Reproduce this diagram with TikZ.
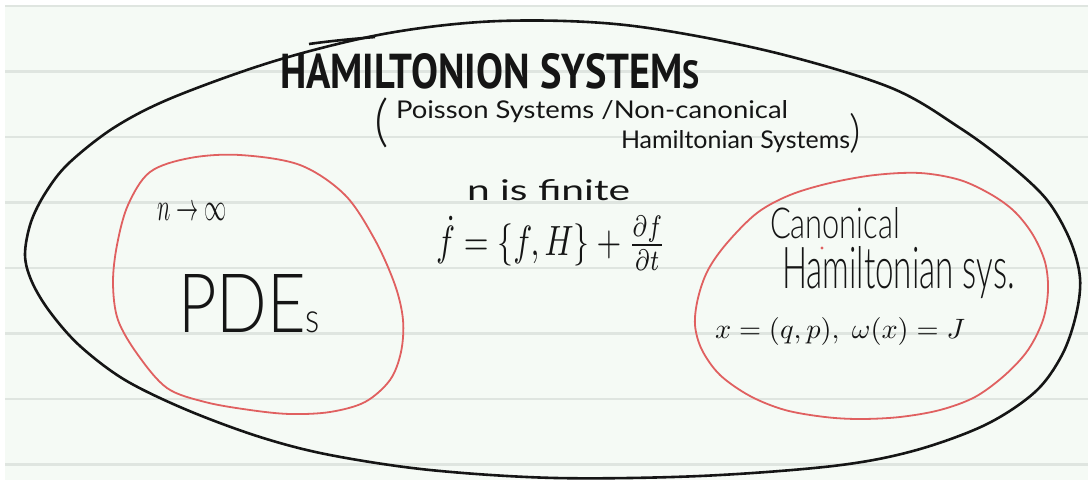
\documentclass[tikz,border=0pt]{standalone}
\usepackage{fontspec}
\setmainfont{PT Sans}
\IfFontExistsTF{Lato Light}{\newfontfamily\thinfont{Lato Light}}{\newfontfamily\thinfont{Lato}}
\newfontfamily\handfont{Lato}
\newlength{\upx}\setlength{\upx}{0.02cm}
\definecolor{paper}{HTML}{F5FAF5}
\definecolor{rulecol}{HTML}{DFE5E0}
\definecolor{pen}{HTML}{E06060}
\definecolor{ink}{HTML}{151515}
\begin{document}
\begin{tikzpicture}[x=0.02cm,y=-0.02cm,
  txt/.style={inner sep=0pt,outer sep=0pt,text=ink},
  outerline/.style={draw=ink,line width=2.6\upx,line join=round},
  redline/.style={draw=pen,line width=1.8\upx,line join=round},
  ruled/.style={draw=rulecol,line width=2.2\upx}]
\useasboundingbox (0,0) rectangle (1088,480);
\fill[white] (0,0) rectangle (1088,480);
\fill[paper] (5,6) rectangle (1088,480);
\foreach \yy in {6,71.5,137,202.5,268,333.5,399,464.5}
  \draw[ruled] (5,\yy) -- (1088,\yy);

% outer black loop
\draw[outerline] plot[smooth cycle, tension=0.55] coordinates {
 (500,21) (625,25) (764,50) (889,87) (960,128) (1010,165) (1047,200)
 (1070,240) (1080,278) (1076,315) (1062,355) (1035,392) (985,425) (913,451)
 (833,466) (700,476) (556,478) (430,470) (330,455) (260,437) (187,410)
 (125,380) (80,346) (50,312) (32,282) (25,255) (31,222) (46,192) (69,163)
 (115,127) (174,97) (278,60) (389,33)};
\draw[outerline] (309,44) .. controls (330,41) and (352,39) .. (375,37);

% red loops
\draw[redline] plot[smooth cycle, tension=0.55] coordinates {
 (240,155) (300,165) (345,195) (375,240) (395,285) (403,320) (401,352)
 (390,380) (365,402) (330,412) (290,414) (250,410) (205,402) (167,388)
 (138,355) (118,320) (113,283) (117,245) (128,205) (150,172) (190,158)};
\draw[redline] plot[smooth cycle, tension=0.55] coordinates {
 (920,173) (960,180) (992,195) (1015,212) (1033,235) (1045,262) (1048,290)
 (1043,320) (1028,350) (1005,375) (975,397) (940,410) (900,417) (860,419)
 (825,417) (785,410) (750,396) (720,375) (702,350) (695,325) (698,298)
 (708,270) (727,243) (757,213) (790,195) (830,183) (875,175)};
\fill[pen] (822,248) circle (1.6);

% texts
\node[txt] (title) at (490,71)
  {\resizebox{420\upx}{35\upx}{\bfseries HAMILTONION SYSTEM{\footnotesize S}}};
\node[txt] (lp) at (382,123) {\resizebox*{!}{50\upx}{\thinfont(}};
\node[txt, anchor=base west] (poisson) at (396,118)
  {\resizebox{392\upx}{18\upx}{\handfont Poisson Systems /Non-canonical}};
\node[txt, anchor=base west] (hamsys) at (621,148)
  {\resizebox{229\upx}{18\upx}{\handfont Hamiltonian Systems}};
\node[txt] (rp) at (855,133) {\resizebox*{!}{40\upx}{\thinfont)}};

\node[txt] (ninf) at (192,212) {\resizebox*{70\upx}{17\upx}{$n\rightarrow\infty$}};
\node[txt, anchor=base west] (pdes) at (178,332)
  {\resizebox{142\upx}{58\upx}{\thinfont PDE{\tiny s}}};

\node[txt, anchor=base west] (finite) at (467,200)
  {\resizebox{163\upx}{21\upx}{\handfont n is finite}};
\node[txt] (eq) at (551,243)
  {\resizebox*{230\upx}{54\upx}{$\dot{f}=\{f,H\}+\frac{\partial f}{\partial t}$}};

\node[txt, anchor=base west] (canon) at (770,238)
  {\resizebox{130\upx}{31\upx}{\thinfont Canonical}};
\node[txt, anchor=base west] (hsys) at (782,288)
  {\resizebox{233\upx}{42\upx}{\thinfont Hamiltonian sys.}};
\node[txt, anchor=base west] (qp) at (715,338)
  {\resizebox*{250\upx}{28\upx}{$x=(q,p),\ \omega(x)=J$}};
\end{tikzpicture}
\end{document}
